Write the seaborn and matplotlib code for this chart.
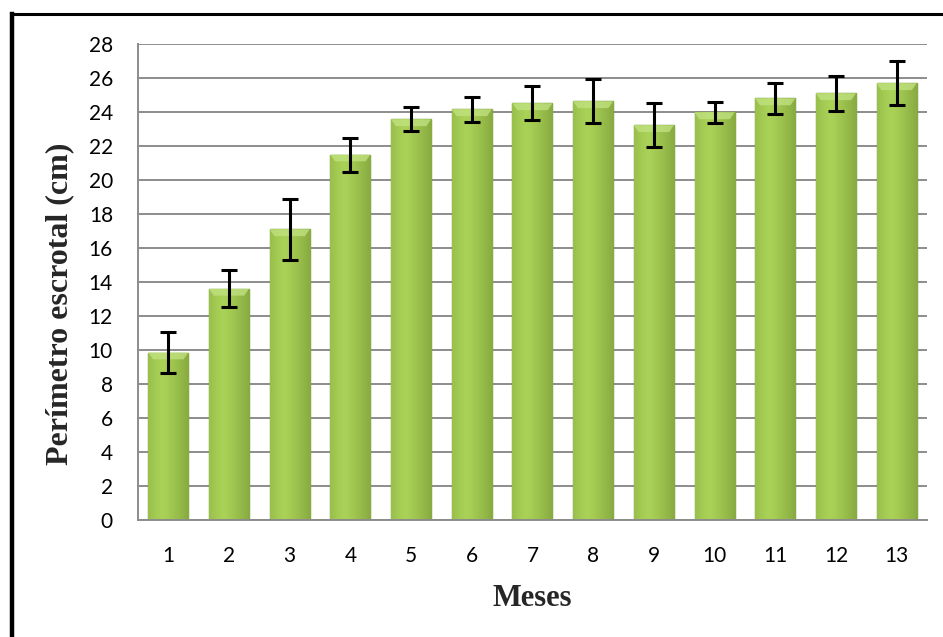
import numpy as np
import pandas as pd
import matplotlib
matplotlib.use("Agg")
import matplotlib.pyplot as plt
import seaborn as sns
from matplotlib.lines import Line2D
from matplotlib.patches import Polygon

meses = ["1", "2", "3", "4", "5", "6", "7", "8", "9", "10", "11", "12", "13"]
perimetro = [9.85, 13.6, 17.1, 21.5, 23.57, 24.16, 24.51, 24.63, 23.22, 23.98, 24.8, 25.1, 25.69]
desvio = [1.2, 1.1, 1.8, 1.0, 0.7, 0.75, 1.0, 1.3, 1.3, 0.6, 0.9, 1.03, 1.3]
yticks = list(range(0, 29, 2))

df = pd.DataFrame({"Meses": meses, "Perimetro": perimetro, "sd": desvio})

sns.set_theme(style="white")
plt.rcParams["font.family"] = ["Lato", "DejaVu Sans"]

fig = plt.figure(figsize=(9.43, 6.37), dpi=100)
ax = fig.add_axes([0.1463, 0.1837, 0.983 - 0.1463, 0.9309 - 0.1837])

sns.barplot(data=df, x="Meses", y="Perimetro", order=meses, color="#9AC44B",
            errorbar=None, width=0.66, ax=ax, edgecolor="#728F36", linewidth=1.0,
            saturation=1)

# horizontal gradient inside each bar plus a light bevel at the top
grad = np.linspace(0, 1, 64)
prof = 1 - 0.55 * np.abs(grad - 0.35) ** 1.2
cmap = matplotlib.colors.LinearSegmentedColormap.from_list("g", ["#718F30", "#AAD257"])
bevel = 0.4
for p in list(ax.patches):
    x0, y0 = p.get_x(), p.get_y()
    w, h = p.get_width(), p.get_height()
    im = ax.imshow(prof[None, :], extent=[x0, x0 + w, y0, y0 + h], aspect="auto",
                   cmap=cmap, vmin=0.45, vmax=1.0, zorder=p.get_zorder(), origin="lower")
    im.set_clip_path(p)
    top = y0 + h
    inset = w * 0.12
    tri = Polygon([[x0, top], [x0 + w, top], [x0 + w - inset, top - bevel], [x0 + inset, top - bevel]],
                  closed=True, facecolor="#C3E383", edgecolor="none", alpha=0.75,
                  zorder=p.get_zorder() + 0.1)
    ax.add_patch(tri)

xs = np.arange(len(meses))
ax.errorbar(xs, perimetro, yerr=desvio, fmt="none", ecolor="black",
            elinewidth=2.2, capsize=5.5, capthick=2.2, zorder=5)

ax.set_xlim(-0.5, len(meses) - 0.5)
ax.set_ylim(0, 28)
ax.set_yticks(yticks)
ax.set_yticklabels([str(t) for t in yticks])
ax.yaxis.grid(True, color="#8C8C8C", linewidth=1.4)
ax.set_axisbelow(True)
for s in ["top", "right"]:
    ax.spines[s].set_visible(False)
for s in ["left", "bottom"]:
    ax.spines[s].set_color("#8C8C8C")
    ax.spines[s].set_linewidth(1.4)
ax.tick_params(axis="both", length=0, labelsize=15, colors="black")
ax.tick_params(axis="y", pad=18)
ax.tick_params(axis="x", pad=19)

ax.set_xlabel("Meses", fontsize=22, fontweight="bold", family="Liberation Serif")
ax.set_ylabel("Perímetro escrotal (cm)", fontsize=23, fontweight="bold",
              family="Liberation Serif")
ax.xaxis.set_label_coords(0.5, -0.135)
ax.yaxis.set_label_coords(-0.081, 0.455)

# outer border (left + top)
fig.add_artist(Line2D([12 / 943, 12 / 943], [0, 1 - 14 / 637], transform=fig.transFigure,
                      color="black", linewidth=3.2, solid_capstyle="projecting"))
fig.add_artist(Line2D([12 / 943, 1.0], [1 - 14 / 637, 1 - 14 / 637], transform=fig.transFigure,
                      color="black", linewidth=2.2))

fig.savefig("out.png", dpi=100)
